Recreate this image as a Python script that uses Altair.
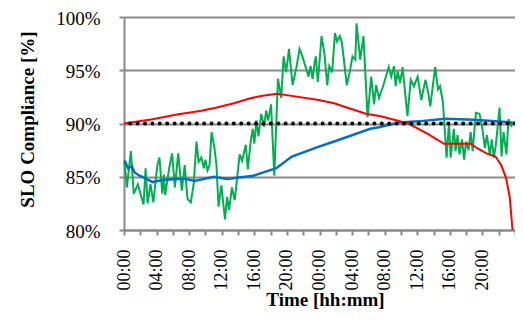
import altair as alt
import pandas as pd

# ---- data (hours since start, SLO compliance in %) ----
green_h = [0.0, 0.1, 0.36, 0.84, 1.2, 1.7, 2.4, 2.65, 2.9, 3.25, 3.6, 4.1, 4.35, 4.7, 4.9, 5.05,
           5.55, 5.9, 6.25, 6.65, 7.1, 7.45, 7.8, 8.2, 8.55, 8.9, 9.15, 9.5, 9.8, 10.0, 10.25,
           10.5, 10.75, 11.1, 11.35, 11.6, 11.95, 12.4, 12.65, 12.9, 13.25, 13.6, 13.85, 14.2,
           14.5, 14.95, 15.2, 15.55, 15.8, 16.0, 16.25, 16.5, 16.85, 17.2, 17.45, 17.7, 18.05,
           18.45, 18.9, 19.3, 19.6, 19.9, 20.1, 20.25, 20.7, 21.2, 21.55, 21.9, 22.65, 22.9,
           23.15, 23.4, 23.55, 23.8, 24.25, 24.6, 24.95, 25.2, 25.55, 25.9, 26.15, 26.5, 26.75,
           27.35, 27.7, 28.05, 28.4, 28.55, 29.0, 29.4, 29.9, 30.35, 30.7, 30.95, 31.3, 31.8,
           32.5, 32.8, 33.15, 33.35, 33.6, 33.9, 34.2, 34.8, 35.2, 35.6, 36.05, 36.5, 37.0,
           37.35, 37.6, 38.2, 38.55, 38.8, 39.15, 39.6, 39.9, 40.1, 40.5, 40.7, 40.95, 41.2,
           41.5, 41.75, 42.0, 42.3, 42.55, 42.8, 43.2, 43.65, 44.0, 44.3, 44.55, 44.9, 45.15,
           45.4, 45.65, 46.1, 46.35, 46.6, 46.95, 47.2, 47.55, 47.9]
green_v = [86.3, 86.1, 84.0, 87.4, 83.4, 84.3, 82.4, 85.8, 82.5, 84.3, 82.6, 86.1, 86.8, 83.4, 85.2, 83.3,
           85.8, 87.2, 84.0, 87.2, 83.7, 86.1, 82.9, 82.6, 84.3, 88.3, 86.4, 86.8, 85.8, 86.6, 85.6,
           86.1, 89.2, 87.7, 86.1, 82.2, 84.2, 81.0, 83.1, 81.9, 84.0, 82.8, 84.6, 87.1,
           86.5, 88.0, 85.7, 88.3, 89.5, 88.1, 90.3, 88.8, 90.9, 89.7, 91.2, 90.3, 91.8,
           85.1, 94.2, 92.4, 96.3, 94.8, 96.0, 97.0, 93.6, 95.4, 97.0, 96.3, 94.4, 95.4,
           94.2, 95.7, 96.3, 93.9, 98.2, 96.6, 93.6, 95.4, 94.8, 98.5, 97.7, 98.2, 97.6,
           93.6, 94.8, 96.3, 96.0, 99.4, 96.0, 98.2, 90.6, 94.4, 91.8, 93.6, 92.4, 93.5,
           95.3, 94.4, 95.4, 93.5, 94.9, 93.8, 95.3, 90.7, 94.1, 93.5, 94.4, 92.2, 94.1,
           92.9, 91.6, 95.3, 93.2, 93.5, 92.0, 86.8, 90.1, 86.8, 89.5, 87.4, 88.9, 87.1,
           88.5, 86.6, 88.3, 87.5, 89.2, 87.4, 91.0, 90.9, 89.5, 87.7, 88.9, 87.1, 88.5,
           86.8, 88.0, 91.5, 86.9, 89.2, 87.1, 90.4, 89.8, 90.1]

blue_h = [0.0, 0.15, 0.5, 0.95, 1.3, 1.9, 2.75, 3.5, 4.7, 6.4, 7.6, 8.65, 11.05, 12.65, 13.85,
          15.9, 18.7, 20.6, 23.85, 26.15, 30.25, 31.3, 33.75, 36.2, 39.4, 42.95, 47.5, 48.0]
blue_v = [86.5, 86.4, 85.8, 86.0, 85.4, 85.1, 84.8, 84.5, 84.7, 84.8, 84.8, 84.6, 85.0, 84.8, 84.9,
          85.1, 85.8, 86.9, 87.8, 88.4, 89.5, 89.65, 90.1, 90.2, 90.45, 90.35, 90.1, 90.05]

red_h = [0.0, 3.5, 6.5, 9.5, 11.4, 13.5, 15.4, 17.0, 18.8, 21.4, 23.9, 25.8, 27.35, 29.8, 31.4,
         34.9, 37.35, 39.3, 42.6, 43.3, 44.5, 45.6, 46.3, 46.9, 47.35, 47.7]
red_v = [90.0, 90.4, 90.85, 91.2, 91.5, 91.9, 92.35, 92.6, 92.8, 92.5, 92.2, 91.9, 91.5, 90.9, 90.7,
         90.0, 89.0, 88.1, 88.1, 87.7, 87.2, 86.9, 86.1, 84.9, 83.1, 80.0]

target_v = [90]

y_ticks = [80, 85, 90, 95, 100]
x_ticks = list(range(0, 49, 2))

FONT = "Liberation Serif"
GRAY = "#898989"

x_enc = alt.X(
    "h:Q",
    scale=alt.Scale(domain=[0, 48], nice=False, zero=False),
    axis=alt.Axis(
        values=x_ticks,
        labelExpr="datum.value % 4 == 0 && datum.value < 48 ? ((datum.value % 24) < 10 ? '0' : '') + (datum.value % 24) + ':00' : ''",
        labelAngle=-90,
        labelFlush=False,
        labelOverlap=False,
        labelPadding=14,
        labelFontSize=18,
        tickSize=5,
        grid=False,
        title="Time [hh:mm]",
        titleX=201,
        titleY=75,
        titleBaseline="alphabetic",
        titleAlign="center",
    ),
)
y_enc = alt.Y(
    "v:Q",
    scale=alt.Scale(domain=[80, 100], nice=False, zero=False),
    axis=alt.Axis(
        values=y_ticks,
        labelExpr="datum.value + '%'",
        labelPadding=19,
        labelFontSize=19,
        labelOffset=1,
        tickSize=5,
        grid=True,
        title="SLO Compliance [%]",
        titleAngle=-90,
        titleX=-91,
        titleY=102,
        titleBaseline="alphabetic",
        titleAlign="center",
    ),
)

green = alt.Chart(pd.DataFrame({"h": green_h, "v": green_v})).mark_line(
    color="#00B050", strokeWidth=2
).encode(x=x_enc, y=y_enc)
blue = alt.Chart(pd.DataFrame({"h": blue_h, "v": blue_v})).mark_line(
    color="#0070C0", strokeWidth=2.5
).encode(x=x_enc, y=y_enc)
red = alt.Chart(pd.DataFrame({"h": red_h, "v": red_v})).mark_line(
    color="#FF0000", strokeWidth=2
).encode(x=x_enc, y=y_enc)
target = alt.Chart(pd.DataFrame({"v": target_v})).mark_rule(
    color="black", strokeWidth=4, strokeDash=[0, 7.4], strokeCap="round"
).encode(y=y_enc)

chart = (
    alt.layer(green, blue, red, target)
    .properties(
        width=391,
        height=213,
        autosize=alt.AutoSizeParams(type="none"),
        padding={"left": 116, "top": 9, "right": 0, "bottom": 80},
    )
    .configure_view(stroke=None)
    .configure_axis(
        labelFont=FONT,
        labelColor="black",
        titleFont=FONT,
        titleFontSize=19,
        titleFontWeight="bold",
        titleColor="black",
        domainColor=GRAY,
        domainWidth=2,
        tickColor=GRAY,
        tickWidth=2,
        gridColor=GRAY,
        gridWidth=2,
        gridOpacity=1,
    )
)

chart.save("out.html", embed_options={"renderer": "svg", "actions": False})
